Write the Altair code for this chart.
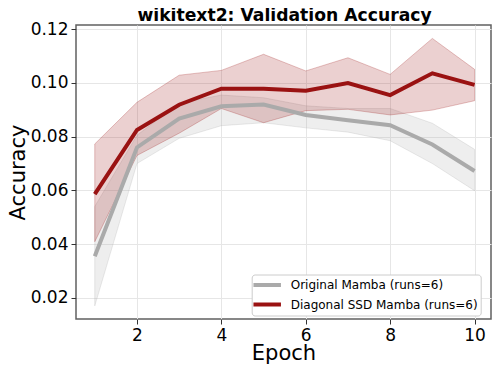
import altair as alt
import pandas as pd

epochs = [1, 2, 3, 4, 5, 6, 7, 8, 9, 10]

orig_mean = [0.0355, 0.0760, 0.0867, 0.0913, 0.0920, 0.0881, 0.0861, 0.0843, 0.0771, 0.0672]
orig_lo = [0.0170, 0.0700, 0.0794, 0.0841, 0.0852, 0.0833, 0.0817, 0.0785, 0.0700, 0.0599]
orig_hi = [0.0540, 0.0805, 0.0925, 0.0955, 0.0945, 0.0915, 0.0905, 0.0905, 0.0850, 0.0753]

diag_mean = [0.0586, 0.0825, 0.0919, 0.0979, 0.0979, 0.0971, 0.1000, 0.0955, 0.1036, 0.0993]
diag_lo = [0.0409, 0.0730, 0.0813, 0.0905, 0.0852, 0.0897, 0.0902, 0.0881, 0.0899, 0.0934]
diag_hi = [0.0773, 0.0928, 0.1029, 0.1047, 0.1107, 0.1045, 0.1094, 0.1032, 0.1166, 0.1051]

series_names = ["Original Mamba (runs=6)", "Diagonal SSD Mamba (runs=6)"]
series_colors = ["#aaaaaa", "#9a1212"]

title_text = ["wikitext2: Validation Accuracy"]

x_ticks = [2, 4, 6, 8, 10]
y_ticks = [0.02, 0.04, 0.06, 0.08, 0.10, 0.12]

rows = []
for name, m, lo, hi in [
    (series_names[0], orig_mean, orig_lo, orig_hi),
    (series_names[1], diag_mean, diag_lo, diag_hi),
]:
    for e, a, b, c in zip(epochs, m, lo, hi):
        rows.append({"epoch": e, "series": name, "mean": a, "lo": b, "hi": c})
df = pd.DataFrame(rows)

FONT = "DejaVu Sans"
W, H = 415, 294

x = alt.X(
    "epoch:Q",
    title="Epoch",
    scale=alt.Scale(domain=[0.555, 10.39], nice=False, zero=False),
    axis=alt.Axis(values=x_ticks, format="d"),
)
y_scale = alt.Scale(domain=[0.0121, 0.1216], nice=False, zero=False)
y = alt.Y(
    "mean:Q",
    title="Accuracy",
    scale=y_scale,
    axis=alt.Axis(values=y_ticks, format=".2f"),
)

base = alt.Chart(df)

bands = []
for name, col in zip(series_names, series_colors):
    bands.append(
        base.transform_filter(alt.datum.series == name)
        .mark_area(fill=col, fillOpacity=0.2, stroke=col, strokeOpacity=0.25, strokeWidth=1)
        .encode(x=x, y=alt.Y("lo:Q", scale=y_scale), y2="hi:Q")
    )

lines = base.mark_line(strokeWidth=4).encode(
    x=x,
    y=y,
    color=alt.Color(
        "series:N",
        scale=alt.Scale(domain=series_names, range=series_colors),
        legend=alt.Legend(
            title=None,
            orient="none",
            legendX=175.7,
            legendY=249.5,
            symbolType="M-2.5,0H2.5",
            symbolSize=121,
            symbolStrokeWidth=4,
            symbolOffset=5,
            labelFontSize=12,
            labelFont=FONT,
            labelColor="black",
            labelLimit=400,
            labelOffset=16,
            rowPadding=2.5,
            padding=3,
            fillColor="white",
            strokeColor="#cccccc",
            cornerRadius=3,
        ),
    ),
    detail="series:N",
)

title = (
    alt.Chart(pd.DataFrame({"t": title_text}))
    .mark_text(
        font=FONT,
        fontSize=17.2,
        fontWeight="bold",
        align="center",
        baseline="alphabetic",
        color="black",
    )
    .encode(text="t:N", x=alt.value(W / 2 + 1), y=alt.value(-4))
)

chart = (
    alt.layer(bands[0], bands[1], lines, title)
    .properties(
        width=W,
        height=H,
        autosize=alt.AutoSizeParams(type="none"),
        padding={"left": 68, "top": 17, "right": 1, "bottom": 46},
    )
    .configure_view(stroke="#606060", strokeWidth=1.5)
    .configure_axis(
        domain=False,
        grid=True,
        gridColor="#e6e6e6",
        gridWidth=1,
        tickColor="#333333",
        tickSize=5,
        labelFont=FONT,
        labelFontSize=17,
        labelColor="black",
        labelPadding=3,
        titleFont=FONT,
        titleFontSize=21,
        titleFontWeight="normal",
        titleColor="black",
    )
    .configure_axisY(titlePadding=2)
    .configure_axisX(titlePadding=-1)
)

chart.save("out.html", embed_options={"renderer": "svg", "actions": False})
